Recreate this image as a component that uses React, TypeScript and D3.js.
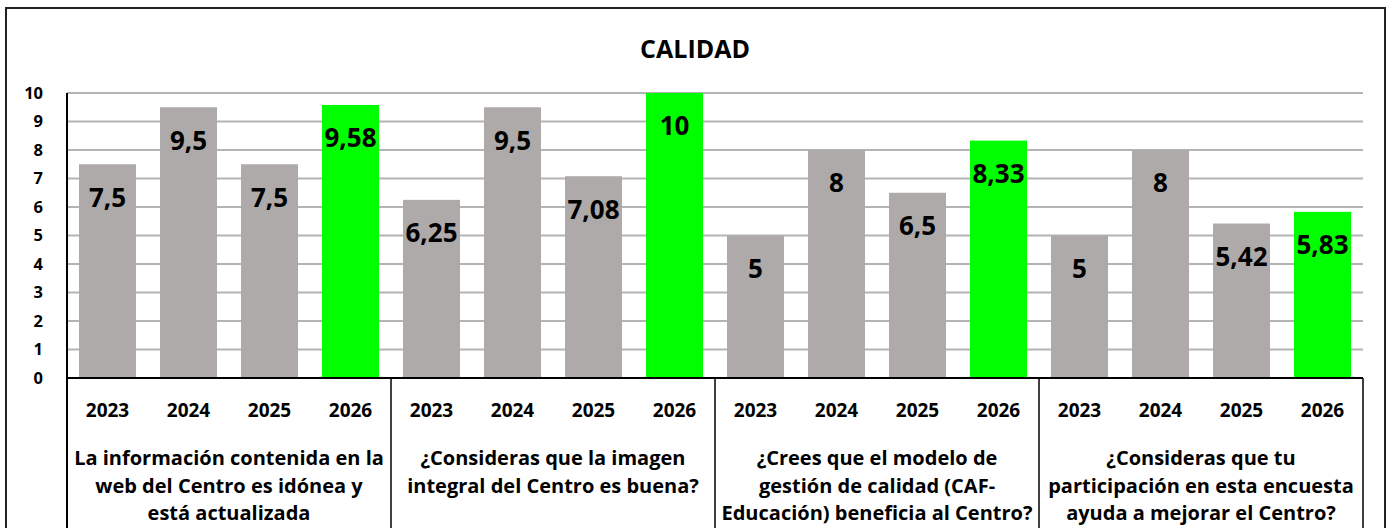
import React, { useEffect, useRef } from "react";
import * as d3 from "d3";

const questions = [
  "La información contenida en la web del Centro es idónea y está actualizada",
  "¿Consideras que la imagen integral del Centro es buena?",
  "¿Crees que el modelo de gestión de calidad (CAF-Educación) beneficia al Centro?",
  "¿Consideras que tu participación en esta encuesta ayuda a mejorar el Centro?",
];
// how each question wraps in the table below the bars
const questionLines = [
  ["La información contenida en la", "web del Centro es idónea y", "está actualizada"],
  ["¿Consideras que la imagen", "integral del Centro es buena?"],
  ["¿Crees que el modelo de", "gestión de calidad (CAF-", "Educación) beneficia al Centro?"],
  ["¿Consideras que tu", "participación en esta encuesta", "ayuda a mejorar el Centro?"],
];
const years = ["2023", "2024", "2025", "2026"];
const scores = [
  [7.5, 9.5, 7.5, 9.58],
  [6.25, 9.5, 7.08, 10],
  [5, 8, 6.5, 8.33],
  [5, 8, 5.42, 5.83],
];
const yTicks = [0, 1, 2, 3, 4, 5, 6, 7, 8, 9, 10];

const W = 1392;
const H = 528;
const FONT = "'Open Sans', Lato, sans-serif";

export default function App() {
  const ref = useRef<SVGSVGElement>(null);

  useEffect(() => {
    const svg = d3.select(ref.current);
    svg.selectAll("*").remove();

    const left = 67, right = 1363, top = 93, base = 378;

    const x0 = d3.scaleBand<string>().domain(questions).range([left, right]).padding(0);
    const x1 = d3.scaleBand<string>().domain(years).range([0, x0.bandwidth()])
      .paddingInner(0.296).paddingOuter(0.148);
    const y = d3.scaleLinear().domain([0, 10]).range([base, top]);

    // outer chart border
    svg.append("rect")
      .attr("x", 6).attr("y", 8).attr("width", 1379).attr("height", 540)
      .attr("fill", "#fff").attr("stroke", "#222").attr("stroke-width", 2);

    svg.append("text")
      .attr("x", 695).attr("y", 58)
      .attr("text-anchor", "middle")
      .attr("font-family", FONT).attr("font-weight", 700).attr("font-size", 25)
      .text("CALIDAD");

    // gridlines
    svg.append("g").selectAll("line")
      .data(yTicks.filter(d => d > 0))
      .join("line")
      .attr("x1", left).attr("x2", right)
      .attr("y1", d => y(d)).attr("y2", d => y(d))
      .attr("stroke", "#b4b4b4").attr("stroke-width", 2);

    // y tick labels
    svg.append("g").selectAll("text")
      .data(yTicks)
      .join("text")
      .attr("x", 43).attr("y", d => y(d))
      .attr("dy", "0.36em")
      .attr("text-anchor", "end")
      .attr("font-family", FONT).attr("font-weight", 700).attr("font-size", 16.5)
      .text(d => d);

    const groups = svg.append("g").selectAll("g")
      .data(questions)
      .join("g")
      .attr("transform", d => `translate(${x0(d)},0)`);

    const fmt = (v: number) => String(v).replace(".", ",");

    const bars = groups.selectAll("g")
      .data((q, qi) => years.map((yr, i) => ({ yr, v: scores[qi][i] })))
      .join("g");

    bars.append("rect")
      .attr("x", d => x1(d.yr)!)
      .attr("y", d => y(d.v))
      .attr("width", x1.bandwidth())
      .attr("height", d => base - y(d.v))
      .attr("fill", d => d.yr === "2026" ? "#00ff00" : "#aeaaaa");

    bars.append("text")
      .attr("x", d => x1(d.yr)! + x1.bandwidth() / 2)
      .attr("y", d => y(d.v) + 33)
      .attr("dy", "0.36em")
      .attr("text-anchor", "middle")
      .attr("font-family", FONT).attr("font-weight", 700).attr("font-size", 26)
      .attr("fill", "#000")
      .text(d => fmt(d.v));

    // year labels
    groups.selectAll("text.yr")
      .data(years)
      .join("text")
      .attr("class", "yr")
      .attr("x", d => x1(d)! + x1.bandwidth() / 2)
      .attr("y", 410)
      .attr("dy", "0.36em")
      .attr("text-anchor", "middle")
      .attr("font-family", FONT).attr("font-weight", 700).attr("font-size", 19)
      .text(d => d);

    // question labels
    groups.append("text")
      .attr("text-anchor", "middle")
      .attr("font-family", FONT).attr("font-weight", 700).attr("font-size", 20)
      .selectAll("tspan")
      .data((q, qi) => questionLines[qi].map((t, i) => ({ t, i })))
      .join("tspan")
      .attr("x", x0.bandwidth() / 2)
      .attr("y", d => 458 + d.i * 27.5)
      .attr("dy", "0.36em")
      .text(d => d.t);

    // table / axis lines
    svg.append("line")
      .attr("x1", left).attr("x2", right).attr("y1", base).attr("y2", base)
      .attr("stroke", "#000").attr("stroke-width", 2);
    svg.append("line")
      .attr("x1", left).attr("x2", left).attr("y1", top).attr("y2", H)
      .attr("stroke", "#000").attr("stroke-width", 2);
    svg.append("g").selectAll("line")
      .data(questions.slice(1).map(q => x0(q)!).concat([right]))
      .join("line")
      .attr("x1", d => d).attr("x2", d => d).attr("y1", base).attr("y2", H)
      .attr("stroke", "#000").attr("stroke-width", 1.5);
  }, []);

  return (
    <div style={{ position: "absolute", left: 0, top: 0 }}>
      <svg ref={ref} width={W} height={H} style={{ display: "block" }} />
    </div>
  );
}
